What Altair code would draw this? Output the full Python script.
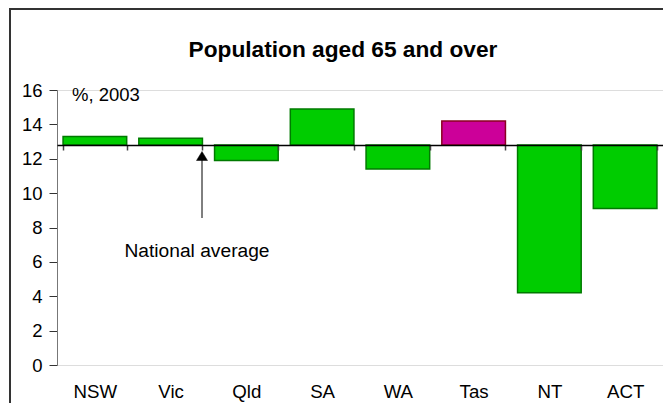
import altair as alt
import pandas as pd

states = ["NSW", "Vic", "Qld", "SA", "WA", "Tas", "NT", "ACT"]
values = [13.3, 13.2, 11.9, 14.9, 11.4, 14.2, 4.2, 9.1]
highlight = "Tas"
national_average = 12.8
y_ticks = [0, 2, 4, 6, 8, 10, 12, 14, 16]

FONT = "Liberation Sans"

df = pd.DataFrame({
    "state": states,
    "value": values,
    "group": ["Tas" if s == highlight else "Other" for s in states],
})

x = alt.X(
    "state:N", sort=states, title=None,
    scale=alt.Scale(paddingInner=0.16, paddingOuter=0.08),
    axis=alt.Axis(
        orient="bottom", offset=-220, zindex=1,
        domainColor="black", domainWidth=1.5,
        tickBand="extent", tickSize=5, tickColor="#444", tickWidth=1.5,
        labelAngle=0, labelPadding=232, labelFontSize=18.7,
        labelFont=FONT, labelColor="black",
    ),
)
y = alt.Y(
    "value:Q", title=None,
    scale=alt.Scale(domain=[0, 16], nice=False),
    axis=alt.Axis(
        values=y_ticks, grid=False, tickSize=8, labelPadding=7,
        domainColor="#777", domainWidth=1, tickColor="#333", tickWidth=1,
        labelFontSize=18.5, labelFont=FONT, labelColor="black",
    ),
)

bars = alt.Chart(df).mark_bar(strokeWidth=1.5).encode(
    x=x,
    y=y,
    y2=alt.datum(national_average),
    fill=alt.Fill("group:N", scale=alt.Scale(domain=["Other", "Tas"], range=["#00CC00", "#CC0099"]), legend=None),
    stroke=alt.Stroke("group:N", scale=alt.Scale(domain=["Other", "Tas"], range=["#007A00", "#8B0020"]), legend=None),
)

one = pd.DataFrame({"a": [0]})

frame = alt.Chart(one).mark_rect(fillOpacity=0, stroke="#333", strokeWidth=2).encode(
    x=alt.value(-47), x2=alt.value(700), y=alt.value(-81), y2=alt.value(420)
)

title = alt.Chart(one).mark_text(
    text="Population aged 65 and over", font=FONT, fontSize=22.7, fontWeight="bold",
    align="center", baseline="middle", color="black",
).encode(x=alt.value(286), y=alt.value(-40))

unit = alt.Chart(one).mark_text(
    text="%, 2003", font=FONT, fontSize=18.5, align="left", baseline="middle", color="black",
).encode(x=alt.value(15), y=alt.value(5))

note = alt.Chart(one).mark_text(
    text="National average", font=FONT, fontSize=19.2, align="center", baseline="middle", color="black",
).encode(x=alt.value(140), y=alt.value(161))

arrow_line = alt.Chart(one).mark_rule(color="black", strokeWidth=1).encode(
    x=alt.value(145), y=alt.value(68), y2=alt.value(128)
)
arrow_head = alt.Chart(one).mark_point(
    shape="M0,-0.82L1,0.82L-1,0.82Z", filled=True, fill="black", stroke="black", strokeWidth=0.5, opacity=1, size=121,
).encode(x=alt.value(145), y=alt.value(66))

chart = alt.layer(frame, bars, title, unit, note, arrow_line, arrow_head).properties(
    width=606, height=275,
    padding={"left": 49, "top": 82, "right": 0, "bottom": 38},
    autosize=alt.AutoSizeParams(type="none"),
).configure_view(stroke=None).configure(font=FONT)

chart.save("out.html", embed_options={"renderer": "svg", "actions": False})
